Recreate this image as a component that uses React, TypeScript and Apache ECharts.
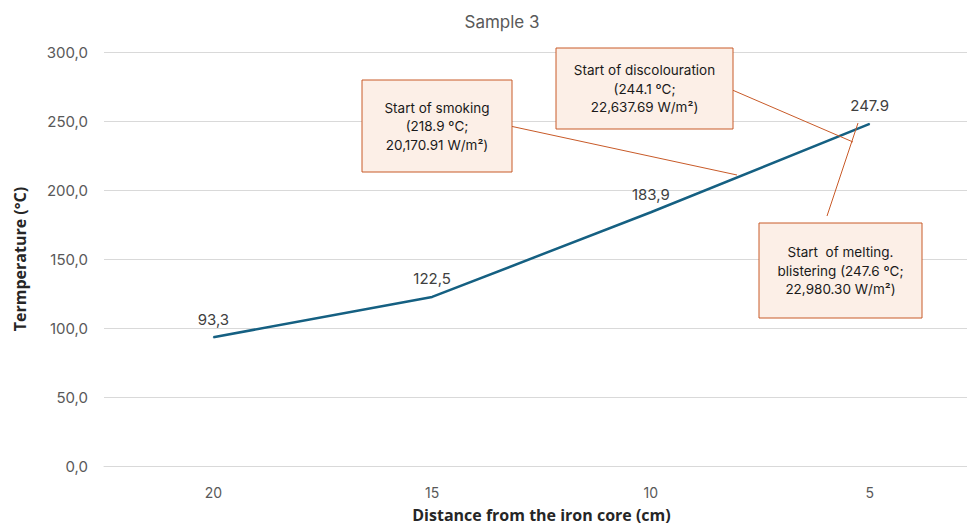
import React, { useEffect, useRef } from "react";
import * as echarts from "echarts";

const categories = ["20", "15", "10", "5"];
const temperatures = [93.3, 122.5, 183.9, 247.9];
const pointLabels = ["93,3", "122,5", "183,9", "247.9"];
const yTicks = { min: 0, max: 300, interval: 50 };

const annotations = [
  { x: 362, y: 80, w: 150, h: 92, lines: ["Start of smoking", "(218.9 ºC;", "20,170.91 W/m²)"], lead: [510, 126, 737, 175] },
  { x: 556, y: 48, w: 177, h: 81, lines: ["Start of discolouration", "(244.1 ºC;", "22,637.69 W/m²)"], lead: [730, 89, 853, 142] },
  { x: 759, y: 223, w: 163, h: 95, lines: ["Start  of melting.", "blistering (247.6 ºC;", "22,980.30 W/m²)"], lead: [827, 216, 858, 123] },
];

const BORDER = "#C85A28";
const FILL = "#FCEFE7";
const FONT = "Inter, 'Noto Sans', sans-serif";
const LINE_COLOR = "#156082";

export default function App() {
  const ref = useRef<HTMLDivElement>(null);
  useEffect(() => {
    if (!ref.current) return;
    const chart = echarts.init(ref.current, null, { renderer: "svg" });
    const graphics: any[] = [];
    annotations.forEach((a) => {
      graphics.push({
        type: "line",
        z: 100,
        shape: { x1: a.lead[0], y1: a.lead[1], x2: a.lead[2], y2: a.lead[3] },
        style: { stroke: BORDER, lineWidth: 1 },
      });
    });
    annotations.forEach((a) => {
      graphics.push({
        type: "rect",
        z: 101,
        shape: { x: a.x, y: a.y, width: a.w, height: a.h },
        style: { fill: FILL, stroke: BORDER, lineWidth: 1 },
      });
      graphics.push({
        type: "text",
        z: 102,
        x: a.x + a.w / 2,
        y: a.y + a.h / 2,
        style: {
          text: a.lines.join("\n"),
          fill: "#1a1a1a",
          font: "13.5px " + FONT,
          lineHeight: 18.5,
          align: "center",
          verticalAlign: "middle",
        },
      });
    });
    chart.setOption({
      animation: false,
      backgroundColor: "#ffffff",
      title: {
        text: "Sample 3",
        left: 497,
        textAlign: "center",
        top: 8,
        textStyle: { color: "#595959", fontSize: 17, fontWeight: "normal", fontFamily: FONT },
      },
      grid: { left: 104, top: 52, width: 875, height: 414, containLabel: false, outerBoundsMode: "none" },
      xAxis: {
        type: "category",
        data: categories,
        boundaryGap: true,
        name: "Distance from the iron core (cm)",
        nameLocation: "middle",
        nameGap: 41,
        nameTextStyle: { color: "#262626", fontSize: 16, fontWeight: "bold", fontFamily: "'Open Sans', sans-serif" },
        axisLine: { show: true, lineStyle: { color: "#d9d9d9" } },
        axisTick: { show: false },
        axisLabel: { color: "#595959", fontSize: 14, margin: 19, fontFamily: FONT },
      },
      yAxis: {
        type: "value",
        min: yTicks.min,
        max: yTicks.max,
        interval: yTicks.interval,
        name: "Termperature (°C)",
        nameLocation: "middle",
        nameGap: 76,
        nameTextStyle: { color: "#262626", fontSize: 16, fontWeight: "bold", fontFamily: "'Open Sans', sans-serif" },
        axisLine: { show: false },
        axisTick: { show: false },
        splitLine: { lineStyle: { color: "#d9d9d9" } },
        axisLabel: {
          color: "#595959",
          fontSize: 15,
          margin: 16,
          fontFamily: FONT,
          formatter: (v: number) => v.toFixed(1).replace(".", ","),
        },
      },
      series: [
        {
          type: "line",
          data: temperatures,
          symbol: "circle",
          symbolSize: 1,
          showSymbol: true,
          lineStyle: { color: LINE_COLOR, width: 2.5 },
          itemStyle: { color: LINE_COLOR },
          labelLayout: { hideOverlap: false },
          label: {
            show: true,
            position: "top",
            distance: 10,
            color: "#404040",
            fontSize: 15,
            fontFamily: FONT,
            formatter: (p: any) => pointLabels[p.dataIndex],
          },
        },
      ],
      graphic: graphics,
    });
    return () => chart.dispose();
  }, []);
  return <div ref={ref} style={{ position: "fixed", left: 0, top: 0, width: 967, height: 527 }} />;
}
